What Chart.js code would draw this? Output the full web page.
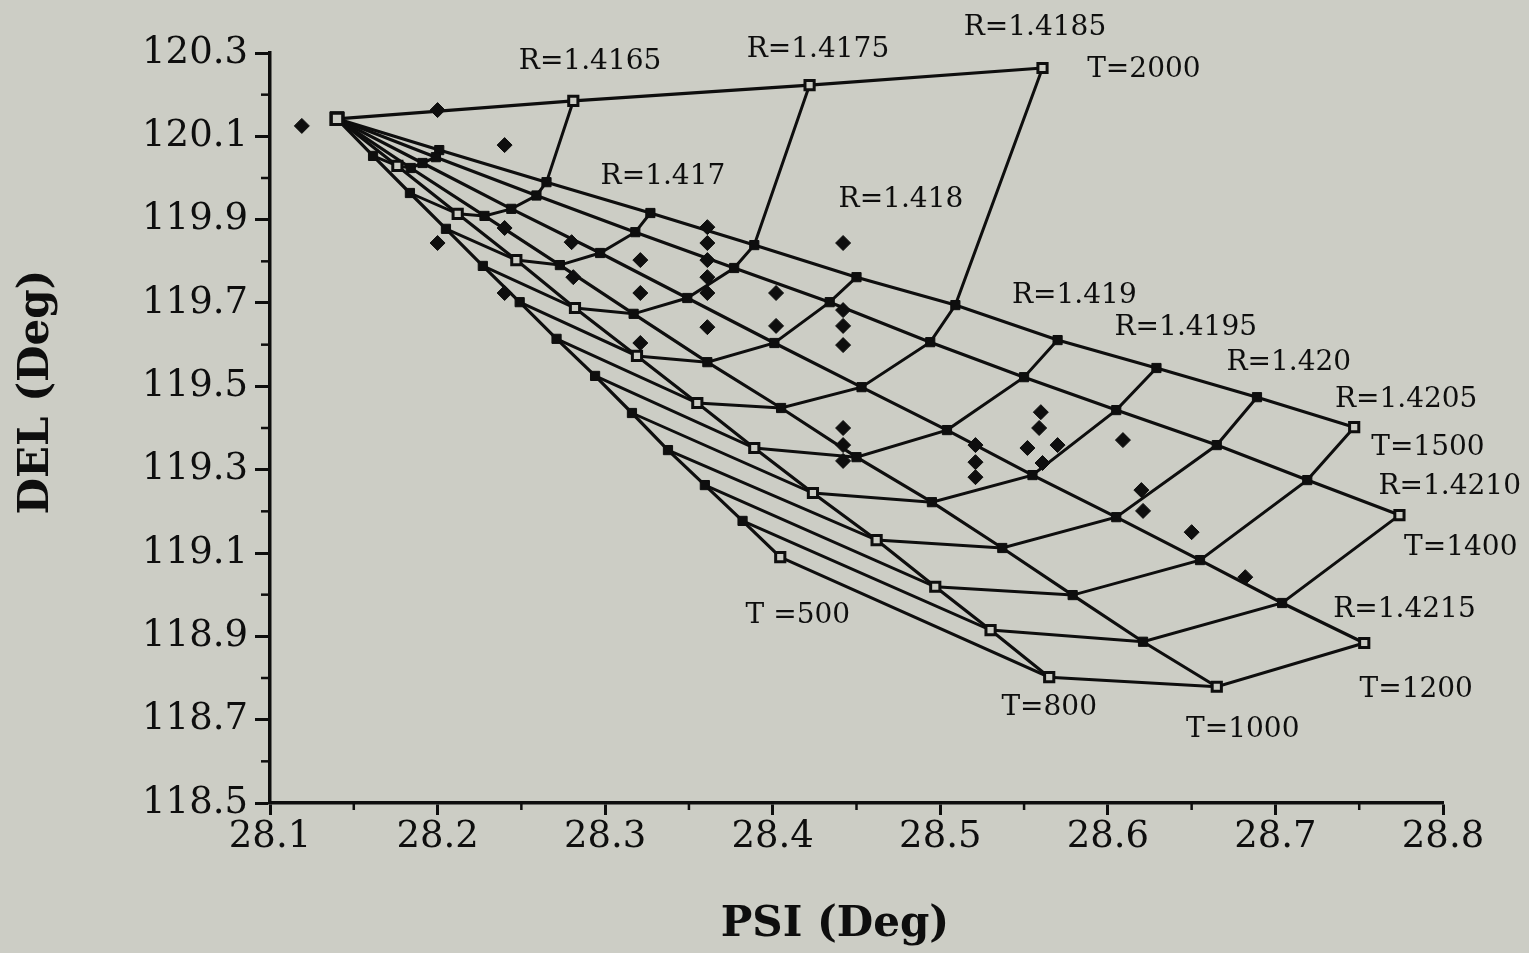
<!DOCTYPE html>
<html>
<head>
<meta charset="utf-8">
<title>PSI vs DEL</title>
<script src="https://cdn.jsdelivr.net/npm/chart.js@4.4.1/dist/chart.umd.min.js"></script>
<style>
  html, body { margin: 0; padding: 0; background: #cccdc5; }
  canvas { display: block; }
</style>
</head>
<body>
<canvas id="gridChart" width="1529" height="953"></canvas>
<script>
// node index k -> R value (all T lines meet at k = 0)
const rValues = [1.4155, 1.416, 1.4165, 1.417, 1.4175, 1.418, 1.4185, 1.419, 1.4195, 1.42, 1.4205, 1.421, 1.4215];
const tValues = [500, 800, 1000, 1200, 1400, 1500, 2000];

// constant-T lines, one value per R node (null = not computed)
const psiT500 = [28.140, 28.1615, 28.1835, 28.205, 28.227, 28.249, 28.271, 28.294, 28.316, 28.3375, 28.3595, 28.382, 28.4045];
const delT500 = [120.142, 120.053, 119.964, 119.878, 119.789, 119.702, 119.614, 119.525, 119.436, 119.347, 119.263, 119.177, 119.090];

const psiT800 = [28.140, 28.176, 28.212, 28.247, 28.282, 28.319, 28.355, 28.389, 28.424, 28.462, 28.497, 28.530, 28.565];
const delT800 = [120.142, 120.029, 119.914, 119.803, 119.688, 119.573, 119.460, 119.352, 119.244, 119.131, 119.019, 118.915, 118.802];

const psiT1000 = [28.140, 28.184, 28.228, 28.273, 28.317, 28.361, 28.405, 28.450, 28.495, 28.537, 28.579, 28.621, 28.665];
const delT1000 = [120.142, 120.024, 119.909, 119.791, 119.674, 119.558, 119.448, 119.330, 119.222, 119.112, 118.999, 118.887, 118.779];

const psiT1200 = [28.140, 28.191, 28.244, 28.297, 28.349, 28.401, 28.453, 28.504, 28.555, 28.605, 28.655, 28.704, 28.753];
const delT1200 = [120.142, 120.036, 119.926, 119.820, 119.712, 119.604, 119.498, 119.395, 119.287, 119.186, 119.083, 118.980, 118.884];

const psiT1400 = [28.140, 28.199, 28.259, 28.318, 28.377, 28.434, 28.494, 28.550, 28.605, 28.665, 28.719, 28.774, null];
const delT1400 = [120.142, 120.050, 119.958, 119.870, 119.784, 119.702, 119.606, 119.522, 119.443, 119.359, 119.275, 119.191, null];

const psiT1500 = [28.140, 28.201, 28.265, 28.327, 28.389, 28.450, 28.509, 28.570, 28.629, 28.689, 28.747, null, null];
const delT1500 = [120.142, 120.067, 119.990, 119.916, 119.839, 119.762, 119.695, 119.611, 119.544, 119.474, 119.402, null, null];

const psiT2000 = [28.140, null, 28.281, null, 28.422, null, 28.561, null, null, null, null, null, null];
const delT2000 = [120.142, null, 120.185, null, 120.223, null, 120.264, null, null, null, null, null, null];

// measured points
const psiMeas = [28.119, 28.200, 28.240, 28.200, 28.240, 28.240, 28.280, 28.281, 28.321, 28.321, 28.321,
  28.361, 28.361, 28.361, 28.361, 28.361, 28.361, 28.402, 28.402, 28.442, 28.442, 28.442, 28.442,
  28.442, 28.442, 28.442, 28.521, 28.521, 28.521, 28.560, 28.559, 28.552, 28.570, 28.561,
  28.609, 28.620, 28.621, 28.650, 28.682];
const delMeas = [120.125, 120.163, 120.079, 119.844, 119.880, 119.724, 119.846, 119.762, 119.803, 119.724, 119.604,
  119.882, 119.844, 119.803, 119.762, 119.724, 119.642, 119.724, 119.645, 119.844, 119.683, 119.645, 119.599,
  119.400, 119.359, 119.321, 119.359, 119.318, 119.282, 119.438, 119.400, 119.352, 119.359, 119.316,
  119.371, 119.251, 119.201, 119.150, 119.042];

// curve labels
const labelTexts = ["R=1.4165", "R=1.4175", "R=1.4185", "T=2000", "R=1.417", "R=1.418", "R=1.419", "R=1.4195",
  "R=1.420", "R=1.4205", "T=1500", "R=1.4210", "T=1400", "R=1.4215", "T=1200", "T=1000", "T=800", "T =500"];
const labelPsi = [28.291, 28.427, 28.5565, 28.6215, 28.3345, 28.4765, 28.580, 28.6465,
  28.708, 28.778, 28.791, 28.804, 28.8106, 28.777, 28.784, 28.6805, 28.565, 28.415];
const labelDel = [120.278, 120.307, 120.360, 120.259, 120.002, 119.947, 119.717, 119.640,
  119.556, 119.467, 119.352, 119.258, 119.112, 118.963, 118.771, 118.675, 118.728, 118.949];

const xTicks = [28.1, 28.2, 28.3, 28.4, 28.5, 28.6, 28.7, 28.8];
const yTicks = [118.5, 118.7, 118.9, 119.1, 119.3, 119.5, 119.7, 119.9, 120.1, 120.3];
const xMinor = [28.15, 28.25, 28.35, 28.45, 28.55, 28.65, 28.75];
const yMinor = [118.6, 118.8, 119.0, 119.2, 119.4, 119.6, 119.8, 120.0, 120.2];

const ink = "#0e0e0e";
const paper = "#cccdc5";

const psiByT = [psiT500, psiT800, psiT1000, psiT1200, psiT1400, psiT1500, psiT2000];
const delByT = [delT500, delT800, delT1000, delT1200, delT1400, delT1500, delT2000];

// T lines with their node markers
const tDatasets = tValues.map((t, i) => {
  const pts = [];
  psiByT[i].forEach((p, k) => {
    if (p !== null) pts.push({ x: p, y: delByT[i][k], k: k });
  });
  const last = pts.length - 1;
  const hollow = pts.map((pt, j) => t === 2000 || t === 800 || j === last || pt.k === 0);
  return {
    label: "T=" + t,
    data: pts,
    showLine: true,
    borderColor: ink,
    borderWidth: 3.2,
    pointStyle: "rect",
    pointRadius: pts.map((pt) => (pt.k === 0 ? 8 : 6.5)),
    pointBorderColor: ink,
    pointBorderWidth: hollow.map((h) => (h ? 3 : 1)),
    pointBackgroundColor: hollow.map((h) => (h ? paper : ink)),
    order: 2,
  };
});

// constant-R lines join the same node across T lines
const rDatasets = [];
for (let k = 1; k < rValues.length; k++) {
  const pts = [];
  tValues.forEach((t, i) => {
    if (psiByT[i][k] !== null) pts.push({ x: psiByT[i][k], y: delByT[i][k] });
  });
  rDatasets.push({
    label: "R=" + rValues[k],
    data: pts,
    showLine: true,
    borderColor: ink,
    borderWidth: 3,
    pointRadius: 0,
    order: 3,
  });
}

const measDataset = {
  label: "measured",
  data: psiMeas.map((p, i) => ({ x: p, y: delMeas[i] })),
  showLine: false,
  pointStyle: "rectRot",
  pointRadius: 7.5,
  pointBackgroundColor: ink,
  pointBorderColor: ink,
  pointBorderWidth: 1,
  order: 1,
};

const paperText = {
  id: "paperText",
  afterDraw(chart) {
    const { ctx, chartArea } = chart;
    const x = chart.scales.x;
    const y = chart.scales.y;
    ctx.save();
    ctx.strokeStyle = ink;
    ctx.lineWidth = 2.5;
    xMinor.forEach((v) => {
      const px = x.getPixelForValue(v);
      ctx.beginPath();
      ctx.moveTo(px, chartArea.bottom);
      ctx.lineTo(px, chartArea.bottom + 7);
      ctx.stroke();
    });
    yMinor.forEach((v) => {
      const py = y.getPixelForValue(v);
      ctx.beginPath();
      ctx.moveTo(chartArea.left - 9, py);
      ctx.lineTo(chartArea.left, py);
      ctx.stroke();
    });

    ctx.fillStyle = ink;
    ctx.textAlign = "center";
    ctx.textBaseline = "middle";
    ctx.font = "28px 'DejaVu Serif'";
    labelTexts.forEach((txt, i) => {
      ctx.fillText(txt, x.getPixelForValue(labelPsi[i]), y.getPixelForValue(labelDel[i]));
    });

    // axis titles
    ctx.font = "bold 42px 'DejaVu Serif'";
    ctx.fillText("PSI (Deg)", 835, 925);
    ctx.translate(37, 392);
    ctx.rotate(-Math.PI / 2);
    ctx.fillText("DEL (Deg)", 0, 0);
    ctx.restore();
  },
};

const ctx = document.getElementById("gridChart").getContext("2d");
const chart = new Chart(ctx, {
  type: "scatter",
  data: { datasets: [measDataset, ...tDatasets, ...rDatasets] },
  options: {
    responsive: false,
    animation: false,
    layout: { padding: { top: 53, right: 86, bottom: 0, left: 0 } },
    plugins: { legend: { display: false }, tooltip: { enabled: false } },
    scales: {
      x: {
        type: "linear",
        min: 28.1,
        max: 28.8,
        afterBuildTicks: (s) => {
          s.ticks = xTicks.map((v) => ({ value: v }));
        },
        afterFit: (s) => {
          s.height = 150;
        },
        ticks: {
          callback: (v) => v.toFixed(1),
          font: { family: "DejaVu Serif", size: 37 },
          color: ink,
          padding: 0,
          maxRotation: 0,
          autoSkip: false,
        },
        grid: { drawOnChartArea: false, tickLength: 12, tickColor: ink, tickWidth: 3 },
        border: { color: ink, width: 3.5 },
      },
      y: {
        type: "linear",
        min: 118.5,
        max: 120.3,
        afterBuildTicks: (s) => {
          s.ticks = yTicks.map((v) => ({ value: v }));
        },
        afterFit: (s) => {
          s.width = 270;
        },
        ticks: {
          callback: (v) => v.toFixed(1),
          font: { family: "DejaVu Serif", size: 37 },
          color: ink,
          padding: 7,
          autoSkip: false,
        },
        grid: { drawOnChartArea: false, tickLength: 15, tickColor: ink, tickWidth: 3 },
        border: { color: ink, width: 3.5 },
      },
    },
  },
  plugins: [paperText],
});
</script>
</body>
</html>
